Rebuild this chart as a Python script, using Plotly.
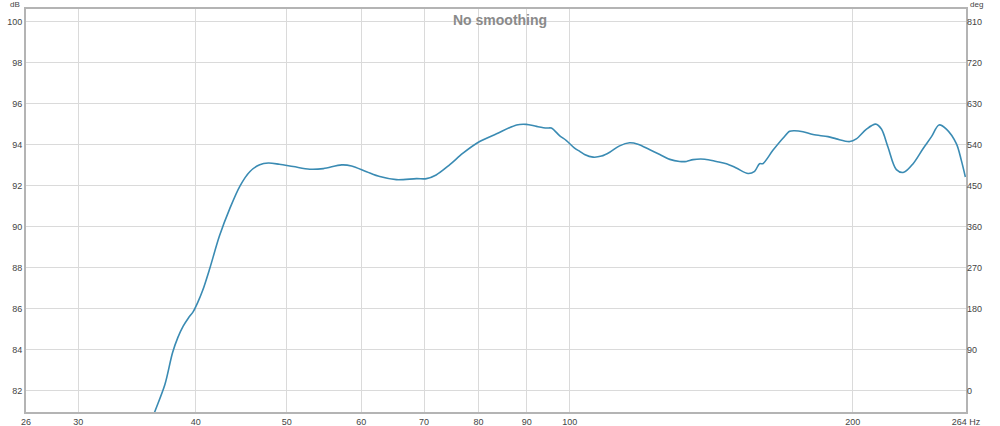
import numpy as np
import plotly.graph_objects as go

# Frequency (Hz) and SPL (dB)
freq_hz = [35.9, 36.2, 37.1, 37.8, 38.3, 38.8, 39.3, 39.75, 40.2, 40.7, 41.4, 42.4, 43.5, 44.6, 45.7, 46.8, 47.8,
           49.1, 50.8, 52.9, 54.7, 57.2, 58.6, 60.8, 62.8, 65.4, 68.7, 70.4, 72.1, 74.5, 77.0, 80.2,
           83.6, 87.8, 89.9, 92.2, 94.5, 95.6, 97.6, 99.2, 101.2, 102.5,
           103.7, 105.9, 108.1, 110.3, 113.0, 115.8, 118.2, 121.7, 124.7, 127.8, 130.9, 133.1, 135.3,
           139.2, 143.2, 146.8, 150.4, 154.8, 157.3, 159.2, 160.5, 164.5, 168.6, 171.4,
           173.5, 177.1, 181.5, 188.3, 192.2, 198.6, 201.8, 206.9, 211.6, 214.6, 218.1, 222.6, 226.7,
           231.9, 237.6, 242.6, 247.1, 251.6, 257.9, 261.0, 263.6]
spl_db = [80.5, 80.98, 82.3, 83.85, 84.6, 85.15, 85.55, 85.85, 86.3, 86.9, 87.95, 89.55, 90.9, 92.0, 92.7, 93.03, 93.11,
          93.05, 92.94, 92.81, 92.84, 93.02, 92.97, 92.69, 92.45, 92.30, 92.35, 92.35, 92.53, 93.02, 93.59, 94.16,
          94.54, 94.97, 95.0, 94.90, 94.82, 94.82, 94.44, 94.21, 93.84, 93.68,
          93.53, 93.40, 93.45, 93.64, 93.95, 94.10, 94.03, 93.76, 93.53, 93.29, 93.19, 93.19, 93.28,
          93.30, 93.19, 93.08, 92.87, 92.60, 92.71, 93.08, 93.08, 93.73, 94.32, 94.66,
          94.69, 94.64, 94.50, 94.40, 94.29, 94.16, 94.29, 94.77, 95.01, 94.77, 93.88, 92.79, 92.66,
          93.08, 93.81, 94.40, 94.97, 94.77, 94.05, 93.24, 92.43]

x_ticks = [26.4, 30, 40, 50, 60, 70, 80, 90, 100, 200, 264]
x_tick_text = ["26", "30", "40", "50", "60", "70", "80", "90", "100", "200", "264 Hz"]
db_ticks = [82, 84, 86, 88, 90, 92, 94, 96, 98, 100]
deg_ticks = [0, 90, 180, 270, 360, 450, 540, 630, 720, 810]

db_range = [80.96, 100.63]
deg_range = [(v - 82) * 45 for v in db_range]

font = dict(family="Liberation Sans, Arial, sans-serif", size=9, color="#444444")
grid = "#dadada"
border = "#b4b4b4"

fig = go.Figure()
fig.add_trace(go.Scatter(x=freq_hz, y=spl_db, mode="lines",
                         line=dict(color="#3a8bb3", width=1.6, shape="spline", smoothing=0.9),
                         showlegend=False, hoverinfo="skip"))
fig.add_trace(go.Scatter(x=[100], y=[None], yaxis="y2", mode="lines", showlegend=False, hoverinfo="skip"))

fig.update_layout(
    width=1000, height=426,
    margin=dict(l=26, r=34, t=9, b=14, autoexpand=False),
    paper_bgcolor="white", plot_bgcolor="white",
    font=font,
    xaxis=dict(type="log", range=[np.log10(26.4), np.log10(264)], tickvals=x_ticks, ticktext=x_tick_text,
               showgrid=True, gridcolor=grid, gridwidth=1, zeroline=False, automargin=False,
               showline=True, linecolor=border, linewidth=2, mirror=True, ticks="", tickfont=font),
    yaxis=dict(range=db_range, tickvals=db_ticks, showgrid=True, gridcolor=grid, gridwidth=1,
               zeroline=False, showline=True, linecolor=border, linewidth=2, mirror=True,
               ticks="", tickfont=font, automargin=False),
    yaxis2=dict(range=deg_range, tickvals=deg_ticks, overlaying="y", side="right", showgrid=False,
                zeroline=False, showline=False, ticks="", tickfont=font, automargin=False),
    annotations=[
        dict(text="No smoothing", xref="paper", yref="paper", x=0.504, y=1, xanchor="center", yanchor="top",
             yshift=-1, showarrow=False, font=dict(family="Liberation Sans, Arial, sans-serif", size=14,
                                                    color="#8a8a8a", weight="bold")),
        dict(text="dB", xref="paper", yref="paper", x=0, y=1, xanchor="right", yanchor="bottom",
             xshift=-4, yshift=-2, showarrow=False, font=dict(family="Liberation Sans, Arial, sans-serif", size=8, color="#444444")),
        dict(text="deg", xref="paper", yref="paper", x=1, y=1, xanchor="left", yanchor="bottom",
             xshift=2, yshift=-2, showarrow=False, font=dict(family="Liberation Sans, Arial, sans-serif", size=8, color="#444444")),
    ],
)

fig.write_html("out.html", config={"displayModeBar": False},
               post_script="document.body.style.margin='0';document.body.style.overflow='hidden';")
